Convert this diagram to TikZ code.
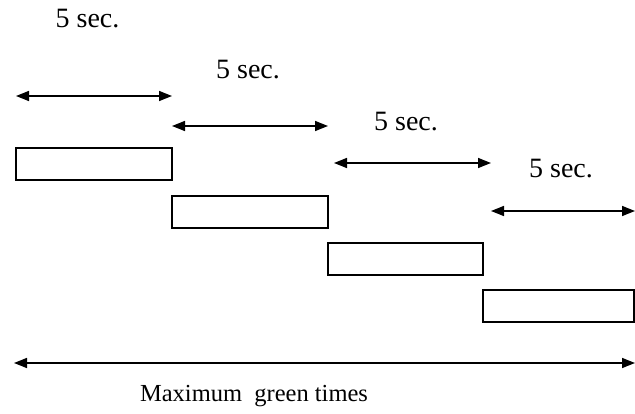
\documentclass[tikz,border=0pt]{standalone}
\usepackage{fontspec}
\setmainfont{Liberation Serif}
\usetikzlibrary{arrows.meta}
\begin{document}
\begin{tikzpicture}[x=1pt,y=-1pt,
  phase/.style={draw=black,line width=1.3pt,fill=white},
  span/.style={line width=1.5pt,{Triangle[length=13pt,width=10pt]}-{Triangle[length=13pt,width=10pt]}},
  lbl/.style={font=\fontsize{28}{32}\selectfont,inner sep=0pt},
  caption text/.style={font=\fontsize{24.5}{28}\selectfont,inner sep=0pt}]
\useasboundingbox (0,0) rectangle (635,414);
% green phases
\draw[phase] (16,148) rectangle (172,180);
\draw[phase] (172,196) rectangle (328,228);
\draw[phase] (328,243) rectangle (483,275);
\draw[phase] (483,290) rectangle (634,322);
% interval end points
\coordinate (a1) at (16,96);   \coordinate (b1) at (172,96);
\coordinate (a2) at (172,126); \coordinate (b2) at (328,126);
\coordinate (a3) at (334,163); \coordinate (b3) at (491,163);
\coordinate (a4) at (491,211); \coordinate (b4) at (635,211);
\coordinate (a5) at (14,363);  \coordinate (b5) at (635,363);
\draw[span] (a1) -- (b1);
\draw[span] (a2) -- (b2);
\draw[span] (a3) -- (b3);
\draw[span] (a4) -- (b4);
\draw[span] (a5) -- (b5);
% labels
\node[lbl] (t1) at (87.5,19) {5 sec.};
\node[lbl] (t2) at (248,70) {5 sec.};
\node[lbl] (t3) at (406,122) {5 sec.};
\node[lbl] (t4) at (561,169) {5 sec.};
\node[caption text] (t5) at (254,396) {Maximum\ \ green times};
\end{tikzpicture}
\end{document}
